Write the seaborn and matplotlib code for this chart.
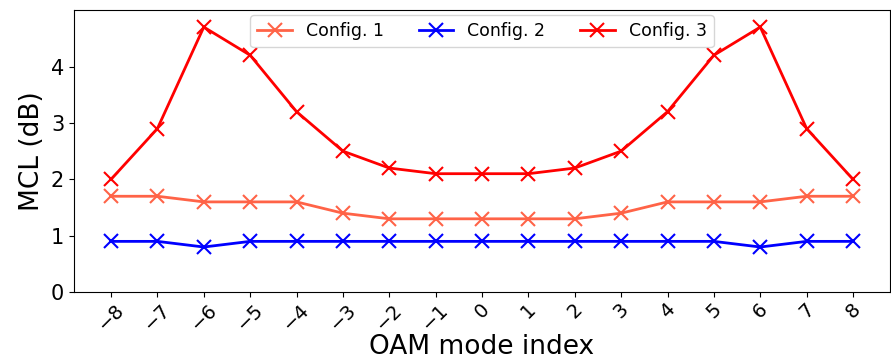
import numpy as np
import pandas as pd
import matplotlib
matplotlib.use("Agg")
import matplotlib.pyplot as plt
import seaborn as sns

# data
modes = list(range(-8, 9))
config1 = [1.7, 1.7, 1.6, 1.6, 1.6, 1.4, 1.3, 1.3, 1.3, 1.3, 1.3, 1.4, 1.6, 1.6, 1.6, 1.7, 1.7]
config2 = [0.9, 0.9, 0.8, 0.9, 0.9, 0.9, 0.9, 0.9, 0.9, 0.9, 0.9, 0.9, 0.9, 0.9, 0.8, 0.9, 0.9]
config3 = [2.0, 2.9, 4.7, 4.2, 3.2, 2.5, 2.2, 2.1, 2.1, 2.1, 2.2, 2.5, 3.2, 4.2, 4.7, 2.9, 2.0]
series_names = ["Config. 1", "Config. 2", "Config. 3"]

df = pd.DataFrame({"mode": modes * 3,
                   "MCL": config1 + config2 + config3,
                   "config": np.repeat(series_names, len(modes))})

plt.rcParams['font.family'] = ['DejaVu Sans']

fig, ax = plt.subplots(figsize=(8.91, 3.62), dpi=100)
colors = {"Config. 1": "tomato", "Config. 2": "blue", "Config. 3": "red"}
for name in series_names:
    sub = df[df["config"] == name]
    sns.lineplot(data=sub, x="mode", y="MCL", ax=ax, color=colors[name],
                 marker="x", markersize=10, markeredgewidth=1.5,
                 markeredgecolor=colors[name], linewidth=2, label=name)

ax.set_ylim(0, 5)
ax.set_xticks(modes)
ax.set_xticklabels([str(m).replace("-", "\u2212") for m in modes], rotation=45, fontsize=14)
ax.tick_params(axis="y", labelsize=15)
ax.tick_params(axis="x", pad=2)
ax.set_yticks([0, 1, 2, 3, 4])
ax.set_xlabel("OAM mode index", fontsize=19, labelpad=0)
ax.set_ylabel("MCL (dB)", fontsize=19)
ax.legend(loc="upper center", ncol=3, fontsize=12.5, borderaxespad=0.3)

fig.subplots_adjust(left=0.083, right=0.999, bottom=0.193, top=0.972)
fig.savefig("out.png", dpi=100)
